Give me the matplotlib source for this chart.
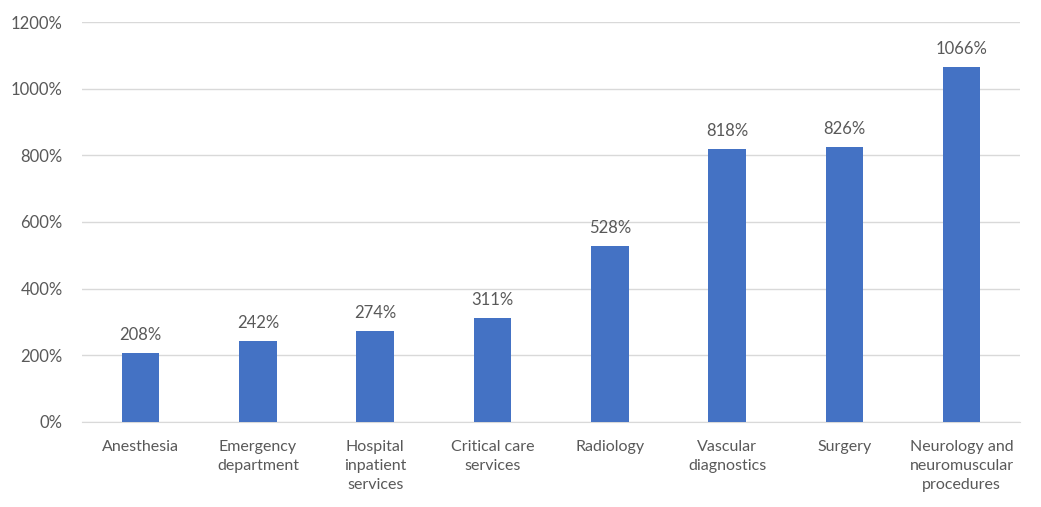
import matplotlib
matplotlib.use("Agg")
import matplotlib.pyplot as plt
from matplotlib.ticker import FuncFormatter

categories = ["Anesthesia", "Emergency\ndepartment", "Hospital\ninpatient\nservices",
              "Critical care\nservices", "Radiology", "Vascular\ndiagnostics", "Surgery",
              "Neurology and\nneuromuscular\nprocedures"]
values = [208, 242, 274, 311, 528, 818, 826, 1066]
yticks = [0, 200, 400, 600, 800, 1000, 1200]

plt.rcParams['font.family'] = ['Lato', 'DejaVu Sans']
txt = '#595959'

fig = plt.figure(figsize=(10.41, 5.07), dpi=100)
ax = fig.add_axes([0.0788, 0.1677, 0.9012, 0.7889])
x = range(len(categories))
ax.bar(x, values, width=0.32, color='#4472C4', zorder=3)
for xi, v in zip(x, values):
    ax.text(xi, v + 30, f"{v}%", ha='center', va='bottom', fontsize=12, color=txt)
ax.set_xlim(-0.5, len(categories) - 0.5)
ax.set_ylim(0, 1200)
ax.set_yticks(yticks)
ax.yaxis.set_major_formatter(FuncFormatter(lambda v, p: f"{int(v)}%"))
ax.set_xticks(list(x))
ax.set_xticklabels(categories, fontsize=11.5, color=txt, linespacing=1.45)
ax.tick_params(axis='y', labelsize=12, colors=txt, length=0, pad=14)
ax.tick_params(axis='x', length=0, pad=13)
ax.grid(axis='y', color='#D9D9D9', linewidth=1, zorder=0)
for s in ['top', 'right', 'left']:
    ax.spines[s].set_visible(False)
ax.spines['bottom'].set_color('#D9D9D9')
fig.savefig("out.png", dpi=100)
